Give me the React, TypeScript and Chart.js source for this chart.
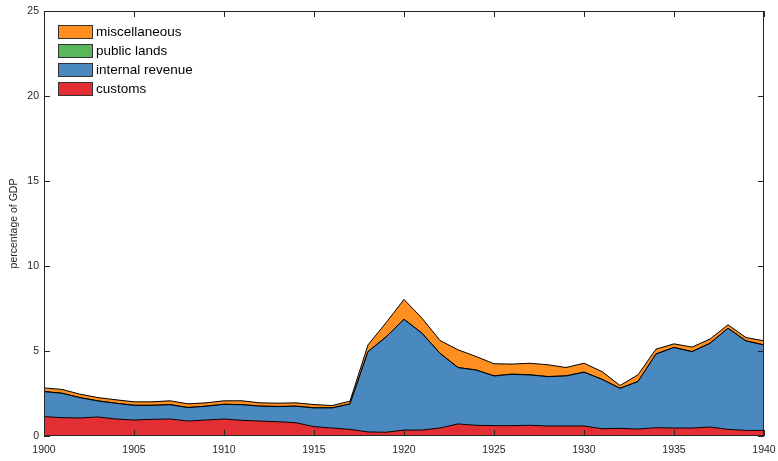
import React, { useEffect, useRef } from 'react';
import { Chart, registerables } from 'chart.js';

Chart.register(...registerables);

const years = [1900, 1901, 1902, 1903, 1904, 1905, 1906, 1907, 1908, 1909, 1910, 1911, 1912, 1913, 1914, 1915, 1916, 1917, 1918, 1919, 1920, 1921, 1922, 1923, 1924, 1925, 1926, 1927, 1928, 1929, 1930, 1931, 1932, 1933, 1934, 1935, 1936, 1937, 1938, 1939, 1940];

const customs = [1.14, 1.08, 1.06, 1.12, 1.0, 0.94, 0.98, 1.0, 0.88, 0.94, 1.0, 0.92, 0.88, 0.84, 0.78, 0.55, 0.47, 0.39, 0.24, 0.22, 0.35, 0.35, 0.47, 0.71, 0.63, 0.61, 0.61, 0.63, 0.59, 0.59, 0.59, 0.43, 0.45, 0.41, 0.49, 0.47, 0.47, 0.53, 0.39, 0.33, 0.33];

const internalRevenue = [1.47, 1.43, 1.19, 0.94, 0.92, 0.86, 0.82, 0.84, 0.79, 0.81, 0.86, 0.92, 0.87, 0.89, 0.97, 1.1, 1.18, 1.49, 4.72, 5.6, 6.51, 5.69, 4.39, 3.31, 3.25, 2.92, 3.02, 2.96, 2.9, 2.94, 3.16, 2.9, 2.35, 2.79, 4.33, 4.73, 4.49, 4.92, 5.94, 5.26, 5.02];

const publicLands = [0.01, 0.01, 0.01, 0.01, 0.01, 0.01, 0.01, 0.01, 0.01, 0.01, 0.01, 0.01, 0.01, 0.01, 0.01, 0.01, 0.01, 0.01, 0.01, 0.01, 0.01, 0.01, 0.01, 0.01, 0.01, 0.01, 0.01, 0.01, 0.01, 0.01, 0.01, 0.01, 0.01, 0.01, 0.01, 0.01, 0.01, 0.01, 0.01, 0.01, 0.01];

const miscellaneous = [0.21, 0.22, 0.2, 0.19, 0.2, 0.2, 0.2, 0.22, 0.21, 0.19, 0.2, 0.22, 0.19, 0.19, 0.19, 0.19, 0.13, 0.16, 0.39, 0.83, 1.16, 0.88, 0.75, 1.04, 0.79, 0.71, 0.59, 0.68, 0.69, 0.49, 0.52, 0.45, 0.16, 0.39, 0.28, 0.21, 0.26, 0.24, 0.2, 0.19, 0.24];

const xTicks = [1900, 1905, 1910, 1915, 1920, 1925, 1930, 1935, 1940];
const yTicks = [0, 5, 10, 15, 20, 25];

const seriesNames = ['customs', 'internal revenue', 'public lands', 'miscellaneous'];
const seriesColors = ['#E32F33', '#4A89BF', '#5AB65A', '#FF8F1F'];

const AXIS_COLOR = '#262626';
const FONT = "'Liberation Sans', Arial, Helvetica, sans-serif";

const boxPlugin = {
  id: 'matlabBox',
  afterDatasetsDraw(chart: any) {
    const { ctx, chartArea, scales } = chart;
    const { left, right, top, bottom } = chartArea;
    ctx.save();
    ctx.strokeStyle = AXIS_COLOR;
    ctx.lineWidth = 1;
    ctx.beginPath();
    ctx.rect(left + 0.5, top + 0.5, right - left - 1, bottom - top - 1);
    ctx.stroke();
    const tl = 6;
    ctx.beginPath();
    xTicks.forEach((v) => {
      const px = Math.round(scales.x.getPixelForValue(v)) + 0.5;
      ctx.moveTo(px, bottom);
      ctx.lineTo(px, bottom - tl);
      ctx.moveTo(px, top);
      ctx.lineTo(px, top + tl);
    });
    yTicks.forEach((v) => {
      const py = Math.round(scales.y.getPixelForValue(v)) + 0.5;
      ctx.moveTo(left, py);
      ctx.lineTo(left + tl, py);
      ctx.moveTo(right, py);
      ctx.lineTo(right - tl, py);
    });
    ctx.stroke();
    ctx.restore();
  },
  afterDraw(chart: any) {
    const { ctx, chartArea } = chart;
    ctx.save();
    const bx = chartArea.left + 14;
    const by = chartArea.top + 14;
    const bw = 35;
    const bh = 14;
    const rowH = 19;
    const order = [3, 2, 1, 0];
    ctx.font = `13.5px ${FONT}`;
    ctx.textBaseline = 'middle';
    ctx.textAlign = 'left';
    order.forEach((si, i) => {
      const y = by + i * rowH;
      ctx.fillStyle = seriesColors[si];
      ctx.fillRect(bx, y, bw, bh);
      ctx.strokeStyle = '#333333';
      ctx.lineWidth = 1;
      ctx.strokeRect(bx + 0.5, y + 0.5, bw - 1, bh - 1);
      ctx.fillStyle = '#000000';
      ctx.fillText(seriesNames[si], bx + bw + 3, y + bh / 2 + 0.5);
    });
    ctx.restore();
  },
};

export default function App() {
  const canvasRef = useRef<HTMLCanvasElement | null>(null);

  useEffect(() => {
    const seriesData = [customs, internalRevenue, publicLands, miscellaneous];
    const datasets = seriesData.map((arr, si) => ({
      label: seriesNames[si],
      data: years.map((yr, i) => ({ x: yr, y: arr[i] })),
      backgroundColor: seriesColors[si],
      borderColor: '#000000',
      borderWidth: 1,
      pointRadius: 0,
      pointHoverRadius: 0,
      tension: 0,
      fill: si === 0 ? 'origin' : '-1',
    }));

    const chart = new Chart(canvasRef.current as HTMLCanvasElement, {
      type: 'line',
      data: { datasets },
      options: {
        animation: false,
        responsive: false,
        maintainAspectRatio: false,
        layout: { padding: { top: 11, right: 14, left: 0, bottom: 0 } },
        plugins: {
          legend: { display: false },
          tooltip: { enabled: false },
        },
        scales: {
          x: {
            type: 'linear',
            min: 1900,
            max: 1940,
            grid: { display: false, drawTicks: false },
            border: { display: false },
            afterFit: (scale: any) => {
              scale.height = 25;
              scale.paddingLeft = 0;
              scale.paddingRight = 0;
            },
            afterBuildTicks: (scale: any) => {
              scale.ticks = xTicks.map((v) => ({ value: v }));
            },
            ticks: {
              autoSkip: false,
              maxRotation: 0,
              padding: 8,
              color: AXIS_COLOR,
              font: { family: FONT, size: 10.5 },
              callback: (v: any) => String(v),
            },
          },
          y: {
            type: 'linear',
            stacked: true,
            min: 0,
            max: 25,
            grid: { display: false, drawTicks: false },
            border: { display: false },
            afterFit: (scale: any) => {
              scale.width = 44;
              scale.paddingTop = 0;
              scale.paddingBottom = 0;
            },
            afterBuildTicks: (scale: any) => {
              scale.ticks = yTicks.map((v) => ({ value: v }));
            },
            ticks: {
              padding: 5,
              color: AXIS_COLOR,
              font: { family: FONT, size: 10.5 },
              callback: (v: any) => String(v),
            },
            title: {
              display: true,
              text: 'percentage of GDP',
              color: AXIS_COLOR,
              font: { family: FONT, size: 10.5 },
              padding: { top: 8, bottom: 0 },
            },
          },
        },
      },
      plugins: [boxPlugin],
    });

    return () => {
      chart.destroy();
    };
  }, []);

  return (
    <div style={{ position: 'absolute', left: 0, top: 0, width: 778, height: 461, background: '#ffffff' }}>
      <canvas ref={canvasRef} width={778} height={461} style={{ width: 778, height: 461 }} />
    </div>
  );
}
